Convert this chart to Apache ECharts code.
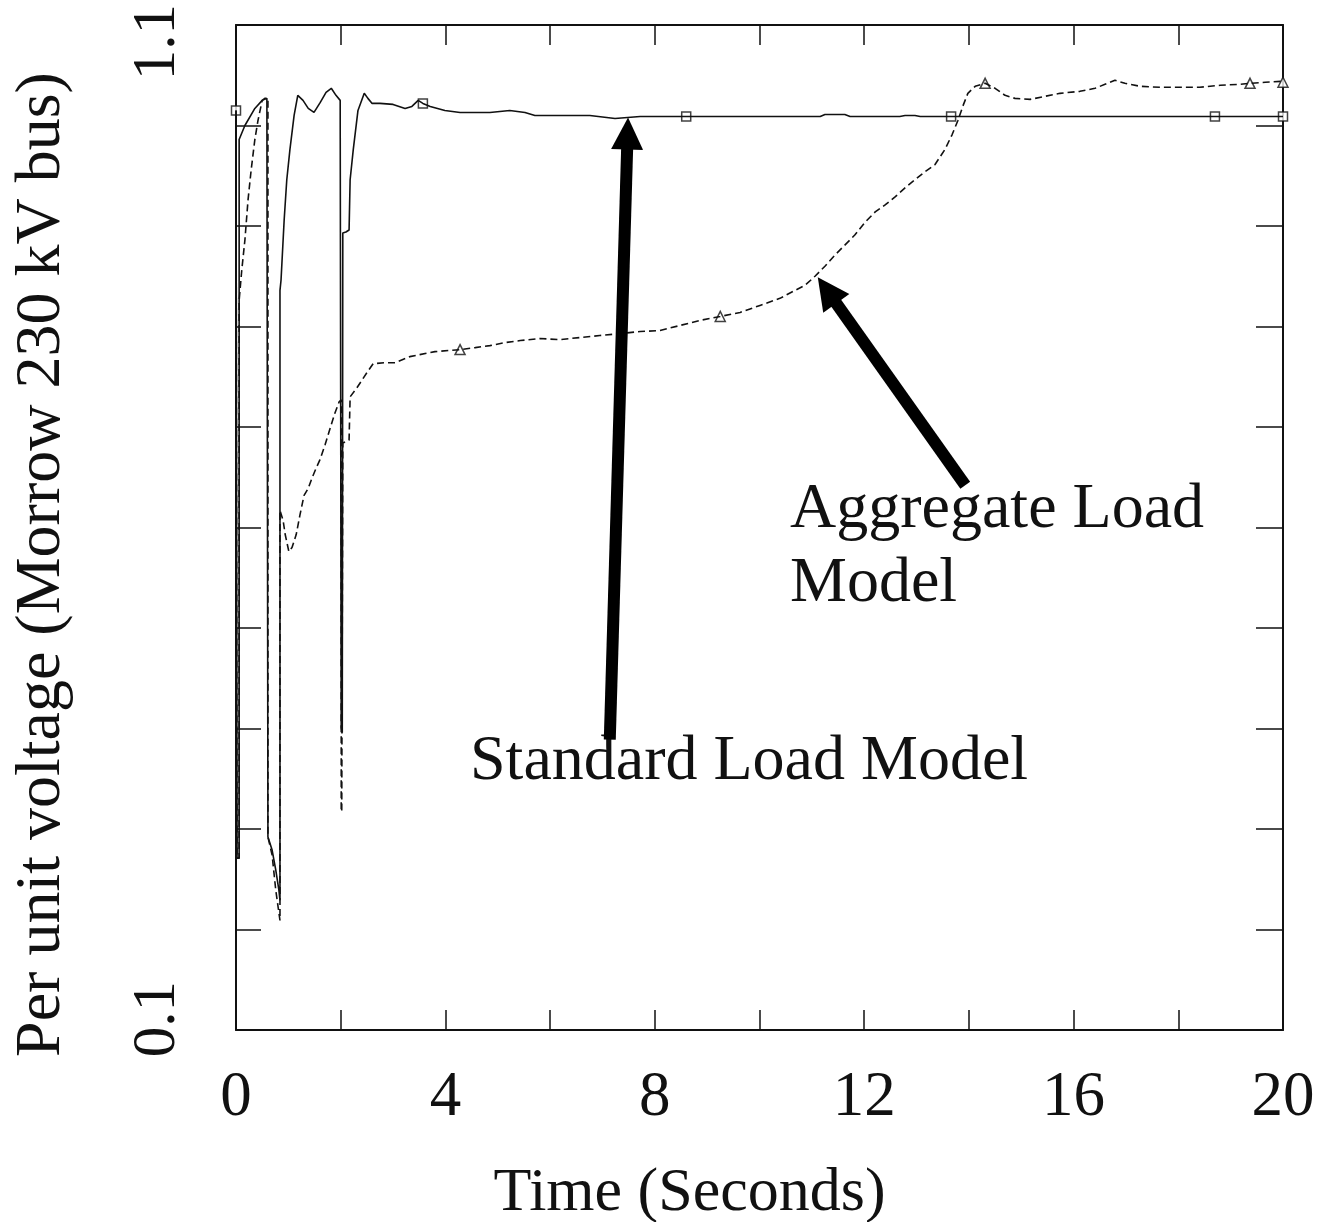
<!DOCTYPE html>
<html>
<head>
<meta charset="utf-8">
<script src="https://cdn.jsdelivr.net/npm/echarts@6.0.0/dist/echarts.min.js"></script>
<style>
  html, body { margin: 0; padding: 0; background: #fff; }
  #chart { width: 1323px; height: 1222px; }
</style>
</head>
<body>
<div id="chart"></div>
<script>
// ── Data ───────────────────────────────────────────────
const stdTime = [0, 0.02, 0.02, 0.06, 0.06, 0.17, 0.36, 0.50, 0.59, 0.61, 0.61, 0.69, 0.76, 0.82, 0.84, 0.84,
  0.86, 0.92, 0.97, 1.03, 1.11, 1.18, 1.28, 1.38, 1.49, 1.61, 1.72, 1.82, 1.91, 1.99, 2.01, 2.01, 2.03, 2.04,
  2.10, 2.16, 2.18, 2.24, 2.33, 2.45, 2.52, 2.60, 2.75, 3.00, 3.23, 3.36, 3.48, 3.57, 3.71, 3.99, 4.28, 4.85,
  5.23, 5.52, 5.71, 6.19, 6.76, 7.24, 7.72, 8.86, 11.16, 11.25, 11.63, 11.73, 12.68, 12.78, 12.97, 13.07,
  13.66, 14.59, 18.70, 20];
const stdVolt = [1.015, 1.015, 0.271, 0.271, 0.986, 1.000, 1.017, 1.025, 1.027, 1.027, 0.292, 0.279, 0.259, 0.239, 0.229, 0.836,
  0.846, 0.906, 0.946, 0.976, 1.010, 1.030, 1.025, 1.017, 1.013, 1.023, 1.033, 1.037, 1.030, 1.025, 1.025, 0.401, 0.396, 0.893,
  0.894, 0.896, 0.946, 0.976, 1.015, 1.032, 1.027, 1.022, 1.022, 1.021, 1.017, 1.019, 1.025, 1.022, 1.019, 1.015, 1.013, 1.013,
  1.015, 1.013, 1.010, 1.010, 1.010, 1.007, 1.009, 1.009, 1.009, 1.011, 1.011, 1.009, 1.009, 1.010, 1.010, 1.009,
  1.009, 1.009, 1.009, 1.009];

const aggTime = [0, 0.02, 0.02, 0.06, 0.06, 0.11, 0.17, 0.23, 0.29, 0.36, 0.42, 0.50, 0.55, 0.61, 0.61, 0.69, 0.76, 0.84, 0.84,
  0.90, 0.94, 1.01, 1.07, 1.15, 1.22, 1.30, 1.38, 1.45, 1.53, 1.60, 1.70, 1.80, 1.89, 1.97, 2.01, 2.01, 2.02, 2.04, 2.16,
  2.18, 2.31, 2.50, 2.62, 2.85, 3.04, 3.32, 3.51, 3.80, 4.28, 4.57, 4.85, 5.14, 5.43, 5.81, 6.19, 6.57, 6.95, 7.34, 7.72,
  8.10, 8.48, 8.86, 9.25, 9.63, 10.01, 10.39, 10.68, 10.87, 11.06, 11.25, 11.44, 11.63, 11.82, 12.02, 12.21, 12.40,
  12.59, 12.78, 12.97, 13.16, 13.35, 13.54, 13.68, 13.79, 13.89, 13.98, 14.12, 14.31, 14.50, 14.69, 14.88, 15.17,
  15.45, 15.74, 16.12, 16.41, 16.60, 16.79, 16.98, 17.27, 17.65, 18.03, 18.41, 18.80, 19.18, 19.37, 19.66, 20];
const aggVolt = [1.015, 1.015, 0.271, 0.271, 0.826, 0.856, 0.886, 0.926, 0.956, 0.986, 1.005, 1.025, 1.027, 1.027, 0.292, 0.274, 0.239, 0.209, 0.617,
  0.607, 0.593, 0.576, 0.580, 0.593, 0.612, 0.632, 0.639, 0.649, 0.659, 0.667, 0.682, 0.699, 0.714, 0.725, 0.727, 0.319, 0.317, 0.684, 0.687,
  0.730, 0.739, 0.754, 0.763, 0.764, 0.764, 0.770, 0.772, 0.775, 0.777, 0.779, 0.781, 0.784, 0.786, 0.788, 0.787, 0.789, 0.791, 0.793, 0.795,
  0.796, 0.801, 0.806, 0.810, 0.814, 0.821, 0.828, 0.836, 0.841, 0.850, 0.860, 0.871, 0.881, 0.891, 0.904, 0.914, 0.921,
  0.929, 0.938, 0.946, 0.954, 0.961, 0.976, 0.991, 1.005, 1.020, 1.032, 1.039, 1.042, 1.037, 1.030, 1.027, 1.026,
  1.029, 1.032, 1.034, 1.037, 1.041, 1.045, 1.042, 1.039, 1.038, 1.038, 1.038, 1.040, 1.041, 1.042, 1.043, 1.044];

const stdMarkTime = [0, 3.57, 8.60, 13.66, 18.70, 20];
const stdMarkVolt = [1.015, 1.022, 1.009, 1.009, 1.009, 1.009];
const aggMarkTime = [4.28, 9.25, 14.31, 19.37, 20];
const aggMarkVolt = [0.777, 0.810, 1.042, 1.042, 1.043];

const xTickLabels = [0, 4, 8, 12, 16, 20];
const yTickLabels = [0.1, 1.1];

// annotation arrows: [start, end] in data units
const arrowStd = [[7.14, 0.389], [7.48, 0.992]];
const arrowAgg = [[13.93, 0.642], [11.29, 0.836]];

// ── Chart ──────────────────────────────────────────────
const FONT = "'Liberation Serif', 'Times New Roman', serif";
const INK  = '#111';

const chart = echarts.init(document.getElementById('chart'));

const zip = (a, b) => a.map((v, i) => [v, b[i]]);
const isTick = (v, list) => list.some(t => Math.abs(t - v) < 1e-6);

const tickStyle     = { lineStyle: { color: INK, width: 1.5 } };
const axisLineStyle = { onZero: false, lineStyle: { color: INK, width: 2 } };

chart.setOption({
  backgroundColor: '#fff',
  animation: false,
  grid: { left: 236, right: 40, top: 25, bottom: 192, outerBoundsMode: 'none', containLabel: false },

  xAxis: [{
    type: 'value', min: 0, max: 20, interval: 2, position: 'bottom',
    axisLine: axisLineStyle,
    axisTick: { inside: true, length: 20, ...tickStyle },
    splitLine: { show: false },
    axisLabel: {
      fontFamily: FONT, fontSize: 63, color: INK, margin: 37,
      formatter: v => isTick(v, xTickLabels) ? String(v) : '',
    },
    name: 'Time (Seconds)',
    nameLocation: 'middle',
    nameGap: 133,
    nameTextStyle: { fontFamily: FONT, fontSize: 62, color: INK, padding: [0, 140, 0, 0] },
  }, {
    type: 'value', min: 0, max: 20, interval: 2, position: 'top',
    axisLine: axisLineStyle,
    axisTick: { inside: true, length: 20, ...tickStyle },
    splitLine: { show: false },
    axisLabel: { show: false },
  }],

  yAxis: [{
    type: 'value', min: 0.1, max: 1.1, interval: 0.1, position: 'left',
    axisLine: axisLineStyle,
    axisTick: { inside: true, length: 25, ...tickStyle },
    splitLine: { show: false },
    axisLabel: {
      rotate: 90, fontFamily: FONT, fontSize: 61, color: INK, margin: 48,
      formatter: v => {
        if (!isTick(v, yTickLabels)) return '';
        const s = String(Math.round(v * 10) / 10);
        return v > 0.5 ? '{hi|' + s + '}' : '{lo|' + s + '}';
      },
      rich: {
        hi: { fontFamily: FONT, fontSize: 61, color: INK, padding: [0, 34, 0, 0] },
        lo: { fontFamily: FONT, fontSize: 61, color: INK, padding: [0, 0, 0, 22] },
      },
    },
    name: 'Per unit voltage (Morrow 230 kV bus)',
    nameLocation: 'middle',
    nameGap: 162,
    nameTextStyle: { fontFamily: FONT, fontSize: 64, color: INK, padding: [0, 74, 0, 0] },
  }, {
    type: 'value', min: 0.1, max: 1.1, interval: 0.1, position: 'right',
    axisLine: axisLineStyle,
    axisTick: { inside: true, length: 27, ...tickStyle },
    splitLine: { show: false },
    axisLabel: { show: false },
  }],

  graphic: [
    { type: 'text', left: 470, top: 730,
      style: { text: 'Standard Load Model', font: `64px ${FONT}`, fill: INK } },
    { type: 'text', left: 790, top: 473,
      style: { text: 'Aggregate Load\nModel', font: `64px ${FONT}`, fill: INK, lineHeight: 74 } },
  ],

  series: [
    {
      name: 'Standard Load Model',
      type: 'line',
      data: zip(stdTime, stdVolt),
      showSymbol: false,
      lineStyle: { color: INK, width: 1.6 },
      silent: true,
      markLine: {
        silent: true,
        symbol: ['none', 'triangle'],
        symbolSize: 32,
        label: { show: false },
        lineStyle: { color: '#000', width: 12, type: 'solid' },
        data: [
          [{ coord: arrowStd[0] }, { coord: arrowStd[1] }],
          [{ coord: arrowAgg[0] }, { coord: arrowAgg[1] }],
        ],
      },
    },
    {
      name: 'Aggregate Load Model',
      type: 'line',
      data: zip(aggTime, aggVolt),
      showSymbol: false,
      lineStyle: { color: INK, width: 1.6, type: [7, 4] },
      silent: true,
    },
    {
      type: 'scatter',
      data: zip(stdMarkTime, stdMarkVolt),
      symbol: 'rect', symbolSize: 9,
      itemStyle: { color: '#fff', borderColor: INK, borderWidth: 1.5 },
      silent: true,
    },
    {
      type: 'scatter',
      data: zip(aggMarkTime, aggMarkVolt),
      symbol: 'triangle', symbolSize: 10,
      itemStyle: { color: '#fff', borderColor: INK, borderWidth: 1.5 },
      silent: true,
    },
  ],
});
</script>
</body>
</html>
